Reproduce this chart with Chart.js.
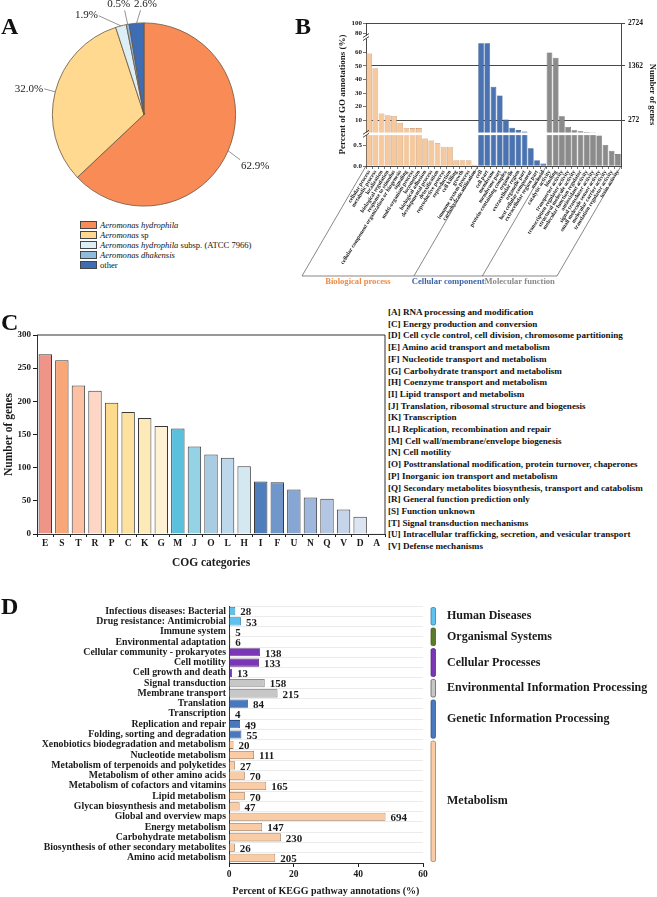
<!DOCTYPE html>
<html>
<head>
<meta charset="utf-8">
<script src="https://cdn.jsdelivr.net/npm/chart.js@4.4.1/dist/chart.umd.min.js"></script>
<style>
  html, body { margin: 0; padding: 0; background: #fff; }
  body { width: 657px; height: 897px; position: relative; overflow: hidden;
         font-family: "Liberation Serif", "Times New Roman", serif; color: #111; }
  .box { position: absolute; }
  .tag { position: absolute; font-weight: bold; font-size: 24px; line-height: 1; z-index: 2; }
  #legendA { position: absolute; left: 80px; top: 220px; font-size: 8.6px; line-height: 10px; }
  #legendA .row { height: 10px; display: flex; align-items: center; white-space: nowrap; }
  #legendA .sw { width: 17px; height: 8px; border: 0.8px solid #444; box-sizing: border-box; margin-right: 3px; }
  #legendC { position: absolute; left: 388px; top: 307px; font-size: 9.1px; font-weight: bold;
             line-height: 11.7px; white-space: nowrap; }
</style>
</head>
<body>
<div class="box" style="left:0;top:0;width:330px;height:215px"><canvas id="pie"></canvas></div>
<div id="legendA"></div>
<div class="box" style="left:295px;top:0;width:362px;height:300px"><canvas id="go"></canvas></div>
<div class="box" style="left:0;top:300px;width:387px;height:270px"><canvas id="cog"></canvas></div>
<div id="legendC"></div>
<div class="box" style="left:0;top:595px;width:657px;height:302px"><canvas id="kegg"></canvas></div>

<div class="tag" style="left:1px;top:14px">A</div>
<div class="tag" style="left:295px;top:14px">B</div>
<div class="tag" style="left:1px;top:310px">C</div>
<div class="tag" style="left:1px;top:594px">D</div>

<script>
// ---- data ----
// A: species distribution of best hits
const speciesNames = ['Aeromonas hydrophila', 'Aeromonas sp', 'Aeromonas hydrophila subsp. (ATCC 7966)', 'Aeromonas dhakensis', 'other'];
const speciesPercent = [62.9, 32.0, 1.9, 0.5, 2.6];

// B: GO annotations (percent), by ontology
const goBPTerms = ['cellular process', 'metabolic process', 'localization', 'biological regulation',
  'response to stimulus', 'cellular component organization or biogenesis', 'signaling',
  'multi-organism process', 'locomotion', 'biological adhesion', 'developmental process',
  'detoxification', 'reproductive process', 'reproduction', 'cell killing', 'growth',
  'immune system process', 'carbohydrate utilization'];
const goBPPercent = [59, 48.3, 14.9, 13.7, 13.2, 8.1, 4.4, 4.3, 4.3, 0.67, 0.62, 0.55, 0.47, 0.47, 0.14, 0.14, 0.14, 0.03];
const goCCTerms = ['cell', 'cell part', 'membrane', 'membrane part', 'protein-containing complex',
  'organelle', 'extracellular region', 'organelle part', 'host cellular component',
  'extracellular region part', 'nucleoid'];
const goCCPercent = [66.5, 66.5, 34.6, 28.2, 10.5, 4.6, 2.8, 1.7, 0.43, 0.14, 0.06];
const goMFTerms = ['catalytic activity', 'binding', 'transporter activity', 'transcription regulator activity',
  'structural molecule activity', 'molecular function regulator', 'antioxidant activity',
  'signal transducer activity', 'small molecule sensor activity', 'molecular carrier activity',
  'translation regulator activity', 'toxin activity'];
const goMFPercent = [59.8, 55.9, 12.9, 5.1, 2.6, 1.9, 1.4, 1.0, 0.74, 0.51, 0.37, 0.29];
const goGroupNames = ['Biological process', 'Cellular component', 'Molecular function'];
const goLeftTicks = [0, 0.5, 10, 20, 30, 40, 50, 60, 80, 100];
const goRightTicks = [10, 50, 100];
const goTotalGenes = 2724;

// C: COG categories
const cogCodes = ['E', 'S', 'T', 'R', 'P', 'C', 'K', 'G', 'M', 'J', 'O', 'L', 'H', 'I', 'F', 'U', 'N', 'Q', 'V', 'D', 'A'];
const cogGeneCounts = [271, 262, 224, 216, 198, 184, 175, 163, 159, 132, 120, 115, 102, 79, 78, 67, 55, 53, 37, 26, 1];
const cogFunctionCodes = ['A', 'C', 'D', 'E', 'F', 'G', 'H', 'I', 'J', 'K', 'L', 'M', 'N', 'O', 'P', 'Q', 'R', 'S', 'T', 'U', 'V'];
const cogFunctionNames = ['RNA processing and modification', 'Energy production and conversion',
  'Cell cycle control, cell division, chromosome partitioning', 'Amino acid transport and metabolism',
  'Nucleotide transport and metabolism', 'Carbohydrate transport and metabolism',
  'Coenzyme transport and metabolism', 'Lipid transport and metabolism',
  'Translation, ribosomal structure and biogenesis', 'Transcription',
  'Replication, recombination and repair', 'Cell wall/membrane/envelope biogenesis', 'Cell motility',
  'Posttranslational modification, protein turnover, chaperones', 'Inorganic ion transport and metabolism',
  'Secondary metabolites biosynthesis, transport and catabolism', 'General function prediction only',
  'Function unknown', 'Signal transduction mechanisms',
  'Intracellular trafficking, secretion, and vesicular transport', 'Defense mechanisms'];
const cogTicks = [0, 50, 100, 150, 200, 250, 300];

// D: KEGG pathways (gene counts)
const keggPathways = ['Infectious diseases: Bacterial', 'Drug resistance: Antimicrobial', 'Immune system',
  'Environmental adaptation', 'Cellular community - prokaryotes', 'Cell motility', 'Cell growth and death',
  'Signal transduction', 'Membrane transport', 'Translation', 'Transcription', 'Replication and repair',
  'Folding, sorting and degradation', 'Xenobiotics biodegradation and metabolism', 'Nucleotide metabolism',
  'Metabolism of terpenoids and polyketides', 'Metabolism of other amino acids',
  'Metabolism of cofactors and vitamins', 'Lipid metabolism', 'Glycan biosynthesis and metabolism',
  'Global and overview maps', 'Energy metabolism', 'Carbohydrate metabolism',
  'Biosynthesis of other secondary metabolites', 'Amino acid metabolism'];
const keggCounts = [28, 53, 5, 6, 138, 133, 13, 158, 215, 84, 4, 49, 55, 20, 111, 27, 70, 165, 70, 47, 694, 147, 230, 26, 205];
const keggCategory = ['Human Diseases', 'Human Diseases', 'Organismal Systems', 'Organismal Systems',
  'Cellular Processes', 'Cellular Processes', 'Cellular Processes',
  'Environmental Information Processing', 'Environmental Information Processing',
  'Genetic Information Processing', 'Genetic Information Processing', 'Genetic Information Processing',
  'Genetic Information Processing', 'Metabolism', 'Metabolism', 'Metabolism', 'Metabolism', 'Metabolism',
  'Metabolism', 'Metabolism', 'Metabolism', 'Metabolism', 'Metabolism', 'Metabolism', 'Metabolism'];
const keggTotalGenes = 1434;
const keggTicks = [0, 20, 40, 60];

// ---- styles ----
const SERIF = '"Liberation Serif", "Times New Roman", serif';
const INK = '#1a1a1a';
const speciesColors = ['#F98B57', '#FED98F', '#DDEFF6', '#8FBBDF', '#3F6DB3'];
const GO_STYLE = [
  { fill: '#F7C89B', line: '#B78A62', text: '#EE8A45' },
  { fill: '#4973B3', line: '#2A4D85', text: '#3C64A8' },
  { fill: '#8B8B8B', line: '#606060', text: '#8A8A8A' }
];
const cogColors = ['#EE9488', '#F9A678', '#FCC1A2', '#FDD6C6', '#FCDC8C', '#FDE29F', '#FEE9B8', '#FEF1D4',
  '#5BC0DC', '#94D2E6', '#A8CDE2', '#BDD8EA', '#D3E8F1', '#4E7EBC', '#7096CA', '#86A7D4', '#9EB8DD',
  '#B3C7E5', '#C6D4EA', '#DCE4F1', '#333333'];
const KEGG_STYLE = {
  'Human Diseases': { fill: '#5DC3EE', line: '#2C6E9B' },
  'Organismal Systems': { fill: '#5B7B2C', line: '#3C5418' },
  'Cellular Processes': { fill: '#7A36B5', line: '#4E1F7D' },
  'Environmental Information Processing': { fill: '#C7C7C7', line: '#4E4E4E' },
  'Genetic Information Processing': { fill: '#4A78BD', line: '#2B4C82' },
  'Metabolism': { fill: '#F9CCA5', line: '#9A7050' }
};

Chart.defaults.font.family = SERIF;
Chart.defaults.color = INK;
Chart.defaults.animation = false;
Chart.defaults.events = [];
Chart.defaults.plugins.legend.display = false;
Chart.defaults.plugins.tooltip.enabled = false;

// ---- A: pie ----
const pieLabelLayout = [
  { dx: 12, dy: 9, tx: 1, ty: 6, align: 'left' },
  { dx: -11, dy: -3, tx: -1, ty: 0, align: 'right' },
  { dx: -22, dy: -10, tx: -1, ty: -1, align: 'right' },
  { dx: -3, dy: -14, tx: -6, ty: -6, align: 'center' },
  { dx: 4, dy: -13, tx: 5, ty: -6, align: 'center' }
];
const pieLabels = {
  id: 'pieLabels',
  afterDatasetsDraw(chart) {
    const ctx = chart.ctx;
    ctx.save();
    ctx.font = '11px ' + SERIF;
    ctx.strokeStyle = '#666';
    ctx.lineWidth = 0.7;
    ctx.fillStyle = '#222';
    ctx.textBaseline = 'middle';
    chart.getDatasetMeta(0).data.forEach((arc, i) => {
      const p = arc.getProps(['x', 'y', 'startAngle', 'endAngle', 'outerRadius'], true);
      const mid = (p.startAngle + p.endAngle) / 2;
      const ex = p.x + Math.cos(mid) * p.outerRadius;
      const ey = p.y + Math.sin(mid) * p.outerRadius;
      const lay = pieLabelLayout[i];
      ctx.beginPath();
      ctx.moveTo(ex, ey);
      ctx.lineTo(ex + lay.dx, ey + lay.dy);
      ctx.stroke();
      ctx.textAlign = lay.align;
      ctx.fillText(speciesPercent[i].toFixed(1) + '%', ex + lay.dx + lay.tx, ey + lay.dy + lay.ty);
    });
    ctx.restore();
  }
};

new Chart(document.getElementById('pie'), {
  type: 'pie',
  data: {
    labels: speciesNames,
    datasets: [{ data: speciesPercent, backgroundColor: speciesColors, borderColor: '#6b5540', borderWidth: 0.8 }]
  },
  options: {
    responsive: true,
    maintainAspectRatio: false,
    layout: { padding: { left: 52, right: 94, top: 22, bottom: 8 } }
  },
  plugins: [pieLabels]
});

// html legend for A (italic genus/species names)
const romanWords = ['sp', 'subsp.', '(ATCC', '7966)', 'other'];
document.getElementById('legendA').innerHTML = speciesNames.map((name, i) => {
  const words = name.split(' ').map(w => romanWords.includes(w) ? w : '<i>' + w + '</i>').join(' ');
  return '<div class="row"><span class="sw" style="background:' + speciesColors[i] + '"></span><span>' + words + '</span></div>';
}).join('');

// ---- B: GO with broken y axis ----
const goSegments = [
  { lo: 0, hi: 0.75, from: 0, to: 0.216 },
  { lo: 1, hi: 70, from: 0.234, to: 0.891 },
  { lo: 75, hi: 100, from: 0.9125, to: 1 }
];
function brokenDecimal(v) {
  for (let i = 0; i < goSegments.length; i++) {
    const s = goSegments[i];
    if (v <= s.hi) {
      if (v < s.lo) return i > 0 ? (goSegments[i - 1].to + s.from) / 2 : s.from;
      return s.from + (v - s.lo) / (s.hi - s.lo) * (s.to - s.from);
    }
  }
  return 1;
}
function brokenValue(d) {
  for (const s of goSegments) {
    if (d <= s.to) return s.lo + Math.max(0, d - s.from) / (s.to - s.from) * (s.hi - s.lo);
  }
  return 100;
}
class BrokenScale extends Chart.LinearScale {
  getPixelForValue(value) { return this.getPixelForDecimal(brokenDecimal(value)); }
  getValueForPixel(pixel) { return brokenValue(this.getDecimalForPixel(pixel)); }
}
BrokenScale.id = 'broken';
BrokenScale.defaults = Chart.LinearScale.defaults;
Chart.register(BrokenScale);

const goLabels = [...goBPTerms, ...goCCTerms, ...goMFTerms];
const goValues = [...goBPPercent, ...goCCPercent, ...goMFPercent];
const goGroup = goLabels.map((_, i) => i < goBPTerms.length ? 0 : i < goBPTerms.length + goCCTerms.length ? 1 : 2);

const goDecor = {
  id: 'goDecor',
  afterDatasetsDraw(chart) {
    const { ctx, chartArea: a } = chart;
    const y = chart.scales.y;
    ctx.save();
    // white bands where the axis is broken
    [[0.75, 1], [70, 75]].forEach(([lo, hi]) => {
      const p1 = y.getPixelForValue(lo), p2 = y.getPixelForValue(hi);
      ctx.fillStyle = '#fff';
      ctx.fillRect(a.left - 4, p2, a.right - a.left + 3.5, p1 - p2);
      ctx.strokeStyle = INK;
      ctx.lineWidth = 0.8;
      const m = (p1 + p2) / 2;
      [-1.5, 1.5].forEach(o => {
        ctx.beginPath();
        ctx.moveTo(a.left - 3, m + o + 2);
        ctx.lineTo(a.left + 3, m + o - 2);
        ctx.stroke();
      });
    });
    ctx.restore();
  },
  afterDraw(chart) {
    const { ctx, chartArea: a } = chart;
    const x = chart.scales.x;
    const half = (x.right - x.left) / goLabels.length / 2;
    const edges = [a.left,
      x.getPixelForValue(goBPTerms.length) - half,
      x.getPixelForValue(goBPTerms.length + goCCTerms.length) - half,
      a.right];
    const drop = 110, shift = -64, yb = a.bottom + drop;
    ctx.save();
    ctx.strokeStyle = '#555';
    ctx.lineWidth = 0.7;
    edges.forEach(ex => {
      ctx.beginPath();
      ctx.moveTo(ex, a.bottom);
      ctx.lineTo(ex + shift, yb);
      ctx.stroke();
    });
    ctx.beginPath();
    ctx.moveTo(edges[0] + shift, yb);
    ctx.lineTo(edges[3] + shift, yb);
    ctx.stroke();
    ctx.font = 'bold 8.6px ' + SERIF;
    ctx.textAlign = 'center';
    ctx.textBaseline = 'top';
    goGroupNames.forEach((name, g) => {
      ctx.fillStyle = GO_STYLE[g].text;
      ctx.fillText(name, (edges[g] + edges[g + 1]) / 2 + shift, yb + 1.5);
    });
    ctx.restore();
  }
};

new Chart(document.getElementById('go'), {
  type: 'bar',
  data: {
    labels: goLabels,
    datasets: [{
      data: goValues,
      backgroundColor: goGroup.map(g => GO_STYLE[g].fill),
      borderColor: goGroup.map(g => GO_STYLE[g].line),
      borderWidth: 0.6,
      barPercentage: 0.92,
      categoryPercentage: 1
    }]
  },
  options: {
    responsive: true,
    maintainAspectRatio: false,
    layout: { padding: { top: 23, left: 35, right: 0, bottom: 0 } },
    scales: {
      x: {
        type: 'category',
        grid: { display: true, drawOnChartArea: false, tickLength: 3, color: INK, lineWidth: 0.6 },
        border: { color: INK, width: 0.8 },
        ticks: { autoSkip: false, minRotation: 58, maxRotation: 58, padding: 0,
                 font: { size: 5.6, weight: 'bold' }, color: INK },
        afterFit(s) { s.height = 134; s.paddingLeft = 0; s.paddingRight = 0; }
      },
      y: {
        type: 'broken', position: 'left', min: 0, max: 100,
        afterBuildTicks(s) { s.ticks = goLeftTicks.map(v => ({ value: v })); },
        ticks: { autoSkip: false, padding: 1, font: { size: 7, weight: 'bold' }, color: INK,
                 callback: v => v < 1 ? v.toFixed(1) : String(v) },
        grid: { drawOnChartArea: false, tickLength: 3, color: INK, lineWidth: 0.6 },
        border: { color: INK, width: 0.8 },
        title: { display: true, text: 'Percent of GO annotations (%)', font: { size: 9, weight: 'bold' },
                 color: INK, padding: { top: 7, bottom: 0 } },
        afterFit(s) { s.width = 36; s.paddingTop = 0; s.paddingBottom = 0; }
      },
      y2: {
        type: 'broken', position: 'right', min: 0, max: 100,
        afterBuildTicks(s) { s.ticks = goRightTicks.map(v => ({ value: v })); },
        ticks: { autoSkip: false, padding: 3, font: { size: 7.5, weight: 'bold' }, color: INK,
                 callback: v => String(Math.round(v * goTotalGenes / 100)) },
        grid: { drawOnChartArea: true, tickLength: 4, color: INK, lineWidth: 0.8 },
        border: { color: INK, width: 0.8 },
        title: { display: true, text: 'Number of genes', font: { size: 8.5, weight: 'bold' },
                 color: INK, padding: { top: 0, bottom: 4 } },
        afterFit(s) { s.width = 36; s.paddingTop = 0; s.paddingBottom = 0; }
      }
    }
  },
  plugins: [goDecor]
});

// ---- C: COG ----
const cogFrame = {
  id: 'cogFrame',
  afterDraw(chart) {
    const { ctx, chartArea: a } = chart;
    ctx.save();
    ctx.strokeStyle = INK;
    ctx.lineWidth = 0.9;
    ctx.beginPath();
    ctx.moveTo(a.left, a.top);
    ctx.lineTo(a.right, a.top);
    ctx.lineTo(a.right, a.bottom);
    ctx.stroke();
    ctx.restore();
  }
};

new Chart(document.getElementById('cog'), {
  type: 'bar',
  data: {
    labels: cogCodes,
    datasets: [{
      data: cogGeneCounts,
      backgroundColor: cogColors,
      borderColor: '#3a3a3a',
      borderWidth: 1,
      barPercentage: 0.81,
      categoryPercentage: 1
    }]
  },
  options: {
    responsive: true,
    maintainAspectRatio: false,
    layout: { padding: { top: 35, right: 2, left: 0, bottom: 0 } },
    scales: {
      x: {
        grid: { display: true, drawOnChartArea: false, tickLength: 3, color: INK },
        border: { color: INK, width: 0.9 },
        ticks: { padding: 1, font: { size: 9.5, weight: 'bold' }, color: INK },
        title: { display: true, text: 'COG categories', font: { size: 11.5, weight: 'bold' }, color: INK,
                 padding: { top: 2, bottom: 0 } },
        afterFit(s) { s.height = 36; s.paddingLeft = 0; s.paddingRight = 0; }
      },
      y: {
        min: 0, max: 300,
        afterBuildTicks(s) { s.ticks = cogTicks.map(v => ({ value: v })); },
        grid: { drawOnChartArea: false, tickLength: 4, color: INK },
        border: { color: INK, width: 0.9 },
        ticks: { padding: 2, font: { size: 9, weight: 'bold' }, color: INK },
        title: { display: true, text: 'Number of genes', font: { size: 11.5, weight: 'bold' }, color: INK,
                 padding: { top: 2, bottom: 0 } },
        afterFit(s) { s.width = 37; s.paddingTop = 0; s.paddingBottom = 0; }
      }
    }
  },
  plugins: [cogFrame]
});

document.getElementById('legendC').innerHTML = cogFunctionCodes
  .map((c, i) => '<div>[' + c + '] ' + cogFunctionNames[i] + '</div>').join('');

// ---- D: KEGG ----
const keggPercent = keggCounts.map(c => c / keggTotalGenes * 100);
const keggGroups = [];
keggCategory.forEach((cat, i) => {
  const last = keggGroups[keggGroups.length - 1];
  if (last && last.name === cat) last.end = i;
  else keggGroups.push({ name: cat, start: i, end: i });
});

const keggDecor = {
  id: 'keggDecor',
  afterDatasetsDraw(chart) {
    const { ctx, chartArea: a } = chart;
    const yS = chart.scales.y;
    ctx.save();
    // counts at bar ends
    ctx.font = 'bold 11px ' + SERIF;
    ctx.fillStyle = INK;
    ctx.textAlign = 'left';
    ctx.textBaseline = 'middle';
    chart.getDatasetMeta(0).data.forEach((bar, i) => {
      ctx.fillText(String(keggCounts[i]), bar.x + 5, bar.y + 1.5);
    });
    // category legend on the right
    const pitch = (yS.bottom - yS.top) / keggPathways.length;
    const bx = a.right + 8;
    keggGroups.forEach(g => {
      const st = KEGG_STYLE[g.name];
      const y1 = yS.getPixelForValue(g.start) - pitch / 2 + 1.5;
      const y2 = yS.getPixelForValue(g.end) + pitch / 2 - 1.5;
      ctx.fillStyle = st.fill;
      ctx.strokeStyle = st.line;
      ctx.lineWidth = 0.7;
      ctx.beginPath();
      ctx.roundRect(bx, y1, 4.5, y2 - y1, 1.5);
      ctx.fill();
      ctx.stroke();
      ctx.fillStyle = INK;
      ctx.font = 'bold 12px ' + SERIF;
      ctx.fillText(g.name, bx + 16, (y1 + y2) / 2);
    });
    ctx.restore();
  }
};

new Chart(document.getElementById('kegg'), {
  type: 'bar',
  data: {
    labels: keggPathways,
    datasets: [{
      data: keggPercent,
      backgroundColor: keggCategory.map(c => KEGG_STYLE[c].fill),
      borderColor: keggCategory.map(c => KEGG_STYLE[c].line),
      borderWidth: 0.8,
      barPercentage: 0.8,
      categoryPercentage: 1
    }]
  },
  options: {
    indexAxis: 'y',
    responsive: true,
    maintainAspectRatio: false,
    layout: { padding: { top: 11, right: 234, left: 0, bottom: 0 } },
    scales: {
      x: {
        min: 0, max: 60,
        afterBuildTicks(s) { s.ticks = keggTicks.map(v => ({ value: v })); },
        grid: { drawOnChartArea: false, tickLength: 4, color: INK },
        border: { color: INK, width: 0.9 },
        ticks: { padding: 2, font: { size: 9.5, weight: 'bold' }, color: INK },
        title: { display: true, text: 'Percent of KEGG pathway annotations (%)',
                 font: { size: 10, weight: 'bold' }, color: INK, padding: { top: 3, bottom: 0 } },
        afterFit(s) { s.height = 34; s.paddingLeft = 0; s.paddingRight = 0; }
      },
      y: {
        grid: { color: '#e6e6e6', lineWidth: 0.8, drawTicks: false },
        border: { color: INK, width: 0.9 },
        ticks: { autoSkip: false, padding: 3, font: { size: 9.8, weight: 'bold' }, color: INK },
        afterFit(s) { s.width = 229; s.paddingTop = 0; s.paddingBottom = 0; }
      }
    }
  },
  plugins: [keggDecor]
});
</script>
</body>
</html>
